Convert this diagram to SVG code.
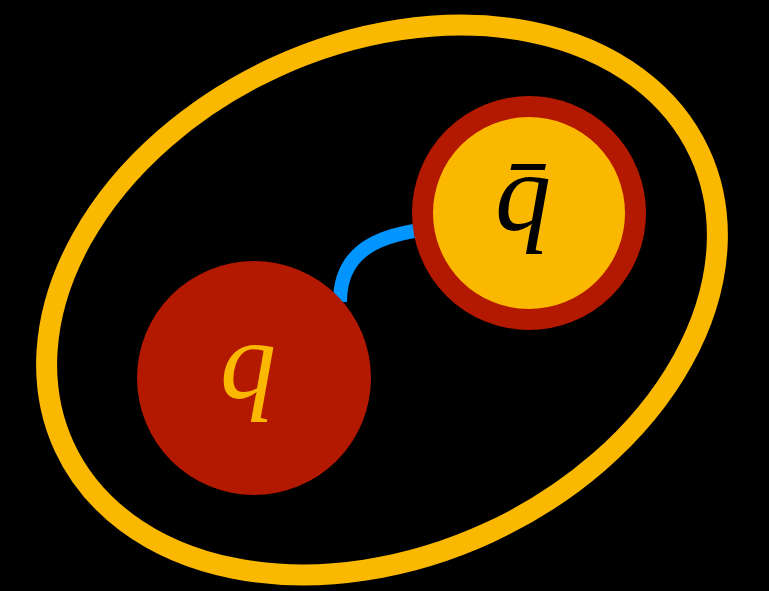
<svg xmlns="http://www.w3.org/2000/svg" width="769" height="591" viewBox="0 0 769 591">
<style>
.lbl{font-family:"Liberation Serif","DejaVu Serif",serif;font-style:italic;font-size:112px;text-anchor:middle}
</style>
<rect width="769" height="591" fill="#000"/>
<g id="hadron">
<ellipse cx="382" cy="300" rx="350" ry="256" transform="rotate(-24.8 382 300)" fill="none" stroke="#FBB800" stroke-width="21"/>
</g>
<g id="connectors">
<path d="M340 302 C340 255 372 237 420 230" fill="none" stroke="#0095FF" stroke-width="14"/>
</g>
<g id="quark">
<circle cx="254" cy="378" r="117" fill="#B31800"/>
<text class="lbl" x="248" y="398" fill="#FBB800">q</text>
</g>
<g id="antiquark">
<circle cx="529" cy="213" r="106.5" fill="#FBB800" stroke="#B31800" stroke-width="21"/>
<text class="lbl" x="523" y="230" fill="#000">q̄</text>
</g>
</svg>
